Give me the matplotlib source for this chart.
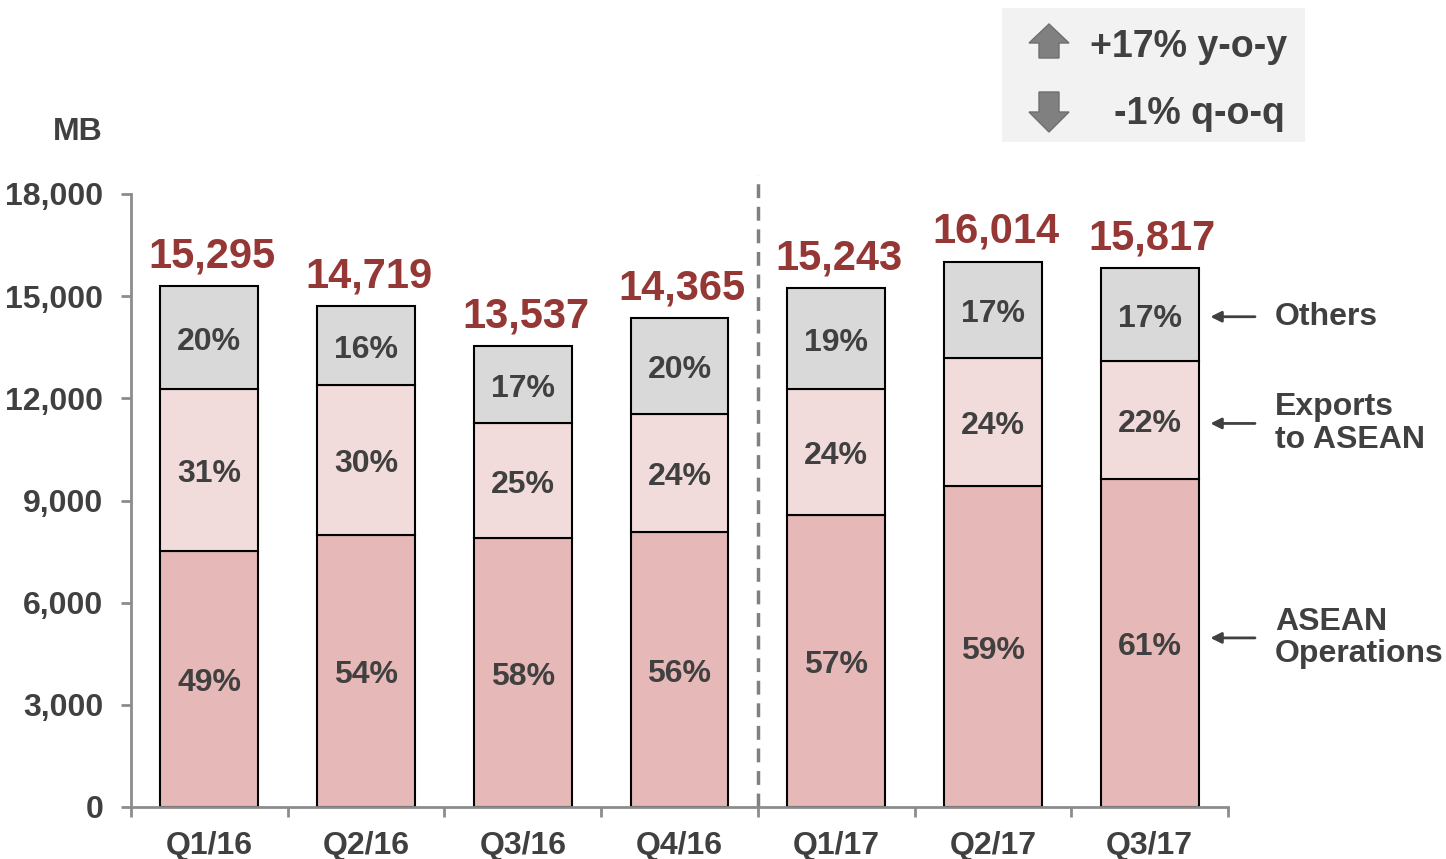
import matplotlib.pyplot as plt
import matplotlib.patches as patches
import numpy as np

plt.rcParams['font.family'] = ['Liberation Sans', 'DejaVu Sans']
plt.rcParams['font.weight'] = 'bold'

quarters = ["Q1/16", "Q2/16", "Q3/16", "Q4/16", "Q1/17", "Q2/17", "Q3/17"]
totals = [15295, 14719, 13537, 14365, 15243, 16014, 15817]
asean_ops = [7516, 7986, 7898, 8074, 8573, 9425, 9630]
exports = [4757, 4404, 3376, 3464, 3700, 3758, 3465]
asean_pct = ["49%", "54%", "58%", "56%", "57%", "59%", "61%"]
export_pct = ["31%", "30%", "25%", "24%", "24%", "24%", "22%"]
other_pct = ["20%", "16%", "17%", "20%", "19%", "17%", "17%"]
yticks = [0, 3000, 6000, 9000, 12000, 15000, 18000]

TEXT = "#404040"
RED = "#953735"
AXIS = "#8c8c8c"
FS = 23

others = [t - a - e for t, a, e in zip(totals, asean_ops, exports)]

fig = plt.figure(figsize=(14.46, 8.59), dpi=100)
ax = fig.add_axes([131 / 1446, 1 - 807 / 859, (1228 - 131) / 1446, (807 - 194) / 859])

x = np.arange(len(quarters))
w = 0.625
bottoms2 = [a + e for a, e in zip(asean_ops, exports)]
ax.bar(x, asean_ops, w, color="#e6b8b7", edgecolor="black", linewidth=1.5, zorder=2)
ax.bar(x, exports, w, bottom=asean_ops, color="#f2dcdb", edgecolor="black", linewidth=1.5, zorder=2)
ax.bar(x, others, w, bottom=bottoms2, color="#d9d9d9", edgecolor="black", linewidth=1.5, zorder=2)


def seg_label(xv, yv, txt):
    ax.annotate(txt, (xv, yv), xytext=(0, -3), textcoords="offset points", ha="center",
                va="center", fontsize=FS, color=TEXT, fontweight="bold", zorder=3)


# segment percentages and totals
for i in range(len(quarters)):
    seg_label(x[i], asean_ops[i] / 2, asean_pct[i])
    seg_label(x[i], asean_ops[i] + exports[i] / 2, export_pct[i])
    seg_label(x[i], bottoms2[i] + others[i] / 2, other_pct[i])
    ax.annotate(f"{totals[i]:,}", (x[i], totals[i]), xytext=(2, 7), textcoords="offset points",
                ha="center", va="bottom", fontsize=30, color=RED, fontweight="bold")

# split between 2016 and 2017
ax.plot([3.5, 3.5], [0, 18560], color="#808080", linewidth=2.5, linestyle=(0, (4, 2.5)),
        clip_on=False, zorder=1)

ax.set_xlim(-0.5, len(quarters) - 0.5)
ax.set_ylim(0, 18000)
ax.set_xticks(x)
ax.set_xticklabels(quarters, fontsize=FS, color=TEXT, fontweight="bold")
ax.set_xticks(np.arange(-0.5, len(quarters), 1.0), minor=True)
ax.tick_params(axis="x", which="major", length=0, pad=17)
ax.tick_params(axis="x", which="minor", length=7, width=2, color=AXIS, direction="out")
ax.set_yticks(yticks)
ax.set_yticklabels([f"{v:,}" for v in yticks], fontsize=FS, color=TEXT, fontweight="bold")
ax.tick_params(axis="y", length=7, width=2, color=AXIS, pad=13)

for s in ["top", "right"]:
    ax.spines[s].set_visible(False)
for s in ["left", "bottom"]:
    ax.spines[s].set_color(AXIS)
    ax.spines[s].set_linewidth(2)

fig.text(78 / 1446, 1 - 132 / 859, "MB", ha="center", va="center", fontsize=FS,
         color=TEXT, fontweight="bold")

# side labels pointing at the last bar
last = len(quarters) - 1
side = [
    (bottoms2[last] + others[last] / 2 - 60, "Others"),
    (asean_ops[last] + exports[last] / 2 - 100, "Exports\nto ASEAN"),
    (asean_ops[last] / 2 + 150, "ASEAN\nOperations"),
]
for yv, label in side:
    ax.annotate("", xy=(6.37, yv), xytext=(6.69, yv),
                arrowprops=dict(arrowstyle="-|>", color=TEXT, lw=2, mutation_scale=16),
                annotation_clip=False)
    ax.text(6.8, yv, label, ha="left", va="center", fontsize=FS, color=TEXT,
            fontweight="bold", linespacing=1.1, clip_on=False)

# growth box
fig.patches.append(patches.Rectangle((1002 / 1446, 1 - 142 / 859), 303 / 1446, 134 / 859,
                                     transform=fig.transFigure, facecolor="#f2f2f2",
                                     edgecolor="none"))
fig.patches.append(patches.FancyArrow(1049 / 1446, 1 - 58 / 859, 0, 34 / 859, width=20 / 1446,
                                      head_width=40 / 1446, head_length=19 / 859,
                                      length_includes_head=True, transform=fig.transFigure,
                                      facecolor="#808080", edgecolor="#6f6f6f", linewidth=1))
fig.patches.append(patches.FancyArrow(1049 / 1446, 1 - 92 / 859, 0, -40 / 859, width=20 / 1446,
                                      head_width=40 / 1446, head_length=20 / 859,
                                      length_includes_head=True, transform=fig.transFigure,
                                      facecolor="#808080", edgecolor="#6f6f6f", linewidth=1))
fig.text(1287 / 1446, 1 - 47 / 859, "+17% y-o-y", ha="right", va="center", fontsize=27,
         color=TEXT, fontweight="bold")
fig.text(1285 / 1446, 1 - 114 / 859, "-1% q-o-q", ha="right", va="center", fontsize=27,
         color=TEXT, fontweight="bold")

fig.savefig("out.png", dpi=100)
